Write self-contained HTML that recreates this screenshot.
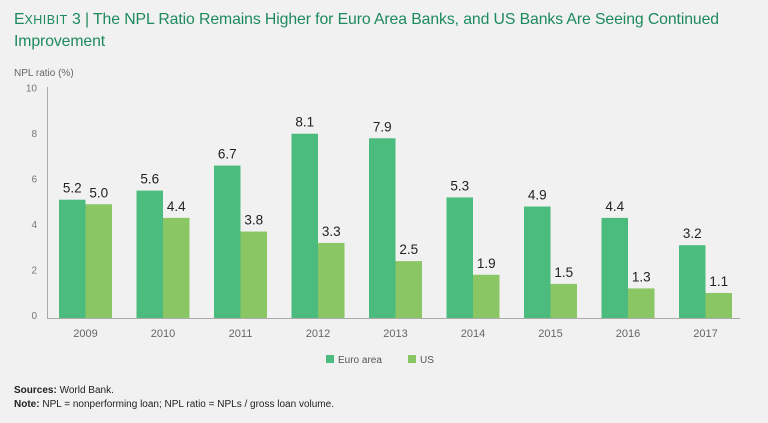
<!DOCTYPE html>
<html><head><meta charset="utf-8"><style>
body{margin:0;background:#f1f1f1;width:768px;height:423px;overflow:hidden;font-family:"Liberation Sans",sans-serif}
#title{position:absolute;left:14px;top:9px;width:754px;font-size:15.8px;line-height:22px;color:#1d8a5c;letter-spacing:-0.1px}
.sc{font-size:12.5px;letter-spacing:0.5px}
#notes{position:absolute;left:14px;top:384px;font-size:10px;line-height:14px;color:#222}
</style></head><body>
<div id="title">E<span class="sc">XHIBIT</span> 3 | The NPL Ratio Remains Higher for Euro Area Banks, and US Banks Are Seeing Continued Improvement</div>
<svg id="chart" width="768" height="423" style="position:absolute;left:0;top:0"></svg>
<div id="notes"><b>Sources:</b> World Bank.<br><b>Note:</b> NPL = nonperforming loan; NPL ratio = NPLs / gross loan volume.</div>
<script>
const years=["2009","2010","2011","2012","2013","2014","2015","2016","2017"];
const euro=[5.2,5.6,6.7,8.1,7.9,5.3,4.9,4.4,3.2];
const us=[5.0,4.4,3.8,3.3,2.5,1.9,1.5,1.3,1.1];
const yTicks=[0,2,4,6,8,10];
const svg=document.getElementById('chart');
const NS='http://www.w3.org/2000/svg';
const base=318,scale=22.75,x0=59,step=77.5,bw=26.5;
const y=v=>base-v*scale;
const gx=i=>x0+i*step;
function mk(t,a){const e=document.createElementNS(NS,t);for(const k in a)e.setAttribute(k,a[k]);svg.appendChild(e);return e;}
let t=mk('text',{x:14,y:76,'font-size':10,fill:'#666'});t.textContent='NPL ratio (%)';


yTicks.forEach(v=>{const e=mk('text',{x:37,y:y(v)+1,'font-size':10,fill:'#777','text-anchor':'end'});e.textContent=v;

});
let ax=mk('line',{x1:47.5,y1:87,x2:47.5,y2:base,stroke:'#aaa','stroke-width':1});


let bx=mk('line',{x1:47,y1:base+0.5,x2:740,y2:base+0.5,stroke:'#aaa','stroke-width':1});


years.forEach((yr,i)=>{
 const ex=gx(i),ux=gx(i)+bw;
 const b1=mk('rect',{x:ex,y:y(euro[i]),width:bw,height:euro[i]*scale,fill:'#4bbb7e'});
 
 
 const b2=mk('rect',{x:ux,y:y(us[i]),width:bw,height:us[i]*scale,fill:'#8bc664'});
 
 
 const l1=mk('text',{x:ex+bw/2,y:y(euro[i])-7,'font-size':13.5,fill:'#222','text-anchor':'middle'});l1.textContent=euro[i].toFixed(1);
 
 
 const l2=mk('text',{x:ux+bw/2,y:y(us[i])-7,'font-size':13.5,fill:'#222','text-anchor':'middle'});l2.textContent=us[i].toFixed(1);
 
 
 const xl=mk('text',{x:ex+bw,y:337,'font-size':11,fill:'#666','text-anchor':'middle'});xl.textContent=yr;
 
 
});
const leg=[["Euro area","#4bbb7e",326],["US","#8bc664",408]];
leg.forEach(l=>{const r=mk('rect',{x:l[2],y:355,width:8,height:8,fill:l[1]});


const tx=mk('text',{x:l[2]+12,y:363,'font-size':10,fill:'#555'});tx.textContent=l[0];

});
</script>
</body></html>
